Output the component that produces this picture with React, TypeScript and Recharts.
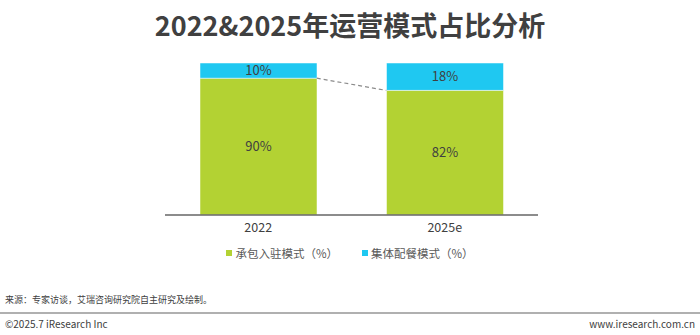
import { BarChart, Bar, XAxis, YAxis, LabelList, ReferenceLine, Legend } from "recharts";

const years = ["2022", "2025e"];
const contractShare = [90, 82];
const groupMealShare = [10, 18];
const seriesNames = ["承包入驻模式（%）", "集体配餐模式（%）"];

const data = years.map((year, i) => ({
  year,
  contract: contractShare[i],
  group: groupMealShare[i],
}));

const GREEN = "#B3D233";
const BLUE = "#1FC8F1";
const TEXT = "#404040";
const FONT = '"Noto Sans CJK SC", "Noto Sans", sans-serif';
const BAR_SIZE = 117;

const pct = (v: any) => `${v}%`;

const DashedLink = (props: any) => {
  const { x1, y1, x2, y2 } = props;
  return (
    <line
      x1={x1 + BAR_SIZE / 2}
      y1={y1}
      x2={x2 - BAR_SIZE / 2}
      y2={y2}
      stroke="#8c8c8c"
      strokeWidth={1.2}
      strokeDasharray="4 3"
    />
  );
};

const LegendContent = (props: any) => {
  const items = props.payload || [];
  return (
    <div style={{ display: "flex", justifyContent: "center", gap: 24, fontFamily: FONT, fontSize: 11.5, color: "#595959" }}>
      {items.map((item: any) => (
        <div key={item.value} style={{ display: "flex", alignItems: "center" }}>
          <span style={{ width: 6, height: 6, background: item.color, marginRight: 3, display: "inline-block" }} />
          <span>{item.value}</span>
        </div>
      ))}
    </div>
  );
};

export default function App() {
  return (
    <div style={{ position: "absolute", left: 0, top: 0, width: 700, height: 335, background: "#fff", fontFamily: FONT }}>
      <div style={{ position: "absolute", top: 7, left: 0, width: 700, textAlign: "center", fontSize: 27, fontWeight: 700, color: TEXT, lineHeight: "35px" }}>
        2022&amp;2025年运营模式占比分析
      </div>
      <div style={{ position: "absolute", top: 0, left: 0 }}>
        <BarChart width={700} height={270} data={data} margin={{ top: 63, right: 162, left: 165, bottom: 25 }}>
          <XAxis
            dataKey="year"
            axisLine={{ stroke: "#666", strokeWidth: 1.5 }}
            tickLine={false}
            tick={{ fill: TEXT, fontSize: 12.5, fontFamily: FONT }}
            height={30}
          />
          <YAxis hide domain={[0, 100]} />
          <Bar dataKey="contract" name={seriesNames[0]} stackId="a" fill={GREEN} stroke="#fff" strokeWidth={0.5} barSize={BAR_SIZE} isAnimationActive={false}>
            <LabelList dataKey="contract" position="center" formatter={pct} fill={TEXT} fontSize={13} fontFamily={FONT} />
          </Bar>
          <Bar dataKey="group" name={seriesNames[1]} stackId="a" fill={BLUE} stroke="#fff" strokeWidth={0.5} barSize={BAR_SIZE} isAnimationActive={false}>
            <LabelList dataKey="group" position="center" formatter={pct} fill={TEXT} fontSize={13} fontFamily={FONT} />
          </Bar>
          <ReferenceLine
            segment={[
              { x: years[0], y: contractShare[0] },
              { x: years[1], y: contractShare[1] },
            ]}
            shape={<DashedLink />}
          />
          <Legend
            verticalAlign="middle"
            align="center"
            layout="horizontal"
            content={<LegendContent />}
            wrapperStyle={{ top: 245, left: 0, width: 700 }}
          />
        </BarChart>
      </div>
      <div style={{ position: "absolute", top: 294, left: 5, fontSize: 9, color: TEXT, lineHeight: "12px" }}>
        来源：专家访谈，艾瑞咨询研究院自主研究及绘制。
      </div>
      <div style={{ position: "absolute", top: 312, left: 0, width: 700, height: 2, background: "#b0b0b0" }} />
      <div style={{ position: "absolute", top: 317, left: 5, fontSize: 10, color: TEXT, lineHeight: "13px" }}>
        ©2025.7 iResearch Inc
      </div>
      <div style={{ position: "absolute", top: 317, right: 5, fontSize: 10, color: TEXT, lineHeight: "13px" }}>
        www.iresearch.com.cn
      </div>
    </div>
  );
}
